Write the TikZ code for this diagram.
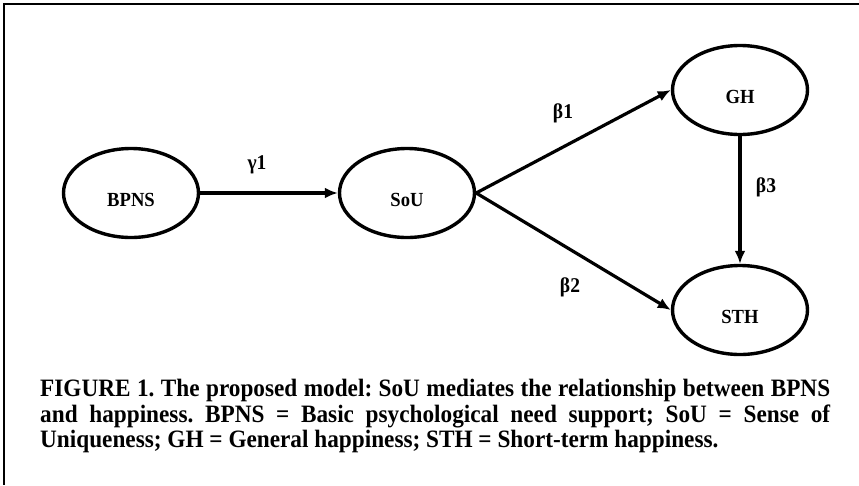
\documentclass[tikz,border=0pt]{standalone}
\usepackage{fontspec}
\setmainfont{Liberation Serif}[FakeStretch=0.93]
\usetikzlibrary{arrows.meta,positioning,shapes.geometric}
\frenchspacing

\tikzset{
  latent/.style={draw,ellipse,line width=3.4pt,minimum width=135pt,minimum height=89pt,
    inner sep=0pt,text height=28pt,font=\fontsize{20}{23}\selectfont\bfseries},
  effect/.style={line width=3.2pt,-{Latex[length=13pt,width=11pt]}},
  coef/.style={font=\fontsize{21}{24}\selectfont\bfseries}
}

\begin{document}
\begin{tikzpicture}[x=1pt,y=-1pt]
  \useasboundingbox (0,0) rectangle (859,485);
  \draw[line width=2.4pt] (859,4) -- (4,4) -- (4,485);

  % latent variables
  \node[latent] (bpns) at (131,193) {BPNS};
  \node[latent] (sou) at (407,193) {SoU};
  \node[latent] (gh) at (740,90) {GH};
  \node[latent] (sth) at (740,310) {STH};

  % paths
  \draw[effect] (bpns) -- (sou);
  \draw[effect] (sou.east) -- (gh.west);
  \draw[effect] (sou.east) -- (sth.west);
  \draw[effect] (gh) -- (sth);

  \node[coef] (g1) at (257,165) {γ1};
  \node[coef] (b1) at (563,113) {β1};
  \node[coef] (b2) at (570,287) {β2};
  \node[coef] (b3) at (766,187) {β3};

  \node[anchor=north west,inner sep=0pt,align=left,
        font=\fontsize{25}{25.5}\selectfont\bfseries] (caption) at (40,379)
    {\makebox[790pt][s]{FIGURE 1. The proposed model: SoU mediates the relationship between BPNS}\\
     \makebox[790pt][s]{and happiness. BPNS = Basic psychological need support; SoU = Sense of}\\
     Uniqueness; GH = General happiness; STH = Short-term happiness.};
\end{tikzpicture}
\end{document}
